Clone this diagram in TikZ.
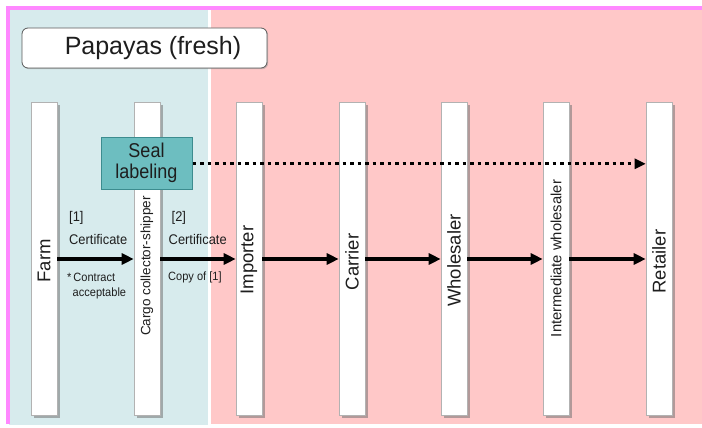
\documentclass[tikz,border=0pt]{standalone}
\usepackage{fontspec}
\setmainfont{Liberation Sans}
\newfontfamily\narrowfont[FakeStretch=0.92]{Liberation Sans}
\newfontfamily\sealfont[FakeStretch=0.9]{Liberation Sans}
\usetikzlibrary{arrows.meta,shadows}
\definecolor{bgblue}{RGB}{215,235,237}
\definecolor{bgpink}{RGB}{255,200,200}
\definecolor{framemag}{RGB}{255,136,255}
\definecolor{sealfill}{RGB}{109,190,192}
\definecolor{sealdraw}{RGB}{60,140,143}
\definecolor{txtgray}{RGB}{30,30,30}
\begin{document}
\begin{tikzpicture}[x=1pt,y=-1pt,
  colbar/.style={draw=black!30, line width=0.6pt, fill=white, minimum width=26pt,
    minimum height=313pt, inner sep=0pt,
    drop shadow={shadow xshift=2.5pt, shadow yshift=-2.5pt, fill=black!55, opacity=0.55}},
  collbl/.style={rotate=90, font=\fontsize{18.5}{20}\selectfont, inner sep=0pt, text=txtgray},
  titlebox/.style={draw=black!65, line width=0.8pt, fill=white, rounded corners=6pt,
    minimum width=245pt, minimum height=40pt, inner sep=0pt,
    drop shadow={shadow xshift=1.2pt, shadow yshift=-1.2pt, fill=black!40, opacity=0.5}},
  sealbox/.style={draw=sealdraw, line width=1pt, fill=sealfill, minimum width=91pt,
    minimum height=52pt, inner sep=0pt, align=center,
    font=\sealfont\fontsize{20}{20.5}\selectfont, text=txtgray},
  certlbl/.style={font=\narrowfont\fontsize{14}{16}\selectfont, anchor=west, inner sep=0pt, text=txtgray},
  smalllbl/.style={font=\narrowfont\fontsize{12}{14}\selectfont, anchor=west, inner sep=0pt, text=txtgray},
  flow/.style={line width=3.3pt, -{Triangle[length=12pt,width=11pt]}},
  dotflow/.style={line width=3pt, dash pattern=on 3.5pt off 4pt, -{Triangle[length=11pt,width=10pt]}}
]
\useasboundingbox (0,0) rectangle (702,428);
% background
\fill[white] (0,0) rectangle (702,428);
\fill[bgblue] (9,10) rectangle (208,425);
\fill[bgpink] (211,10) rectangle (702,424);
\fill[framemag] (6,6.5) rectangle (702,10);
\fill[framemag] (6,6.5) rectangle (9.5,424);
% title
\node[titlebox] (title) at (144.5,48) {};
\node[font=\fontsize{25}{28}\selectfont, text=txtgray, inner sep=0pt] (titletext) at (153,48) {Papayas (fresh)};
% columns
\node[colbar] (farm) at (44,259) {};
\node[colbar] (cargo) at (147,259) {};
\node[colbar] (importer) at (249,259) {};
\node[colbar] (carrier) at (352,259) {};
\node[colbar] (wholesaler) at (454,259) {};
\node[colbar] (interm) at (556,259) {};
\node[colbar] (retailer) at (659,259) {};
% column labels
\node[collbl] (farmlbl) at (44,261) {Farm};
\node[collbl, font=\fontsize{13.5}{15}\selectfont] (cargolbl) at (147,266) {Cargo collector-shipper};
\node[collbl] (importerlbl) at (249,260) {Importer};
\node[collbl] (carrierlbl) at (352,262) {Carrier};
\node[collbl] (wholesalerlbl) at (454,260.5) {Wholesaler};
\node[collbl, font=\fontsize{14.8}{16}\selectfont] (intermlbl) at (556,258.5) {Intermediate wholesaler};
\node[collbl] (retailerlbl) at (659,261.5) {Retailer};
% seal labeling
\node[sealbox] (seal) at (146.5,163) {Seal\\labeling};
\coordinate (dotstart) at ([yshift=-0.8pt]seal.east);
\draw[dotflow] (dotstart) -- (dotstart -| retailer.west);
% flows
\draw[flow] (farm.east) -- (cargo.west);
\draw[flow] (cargo.east) -- (importer.west);
\draw[flow] (importer.east) -- (carrier.west);
\draw[flow] (carrier.east) -- (wholesaler.west);
\draw[flow] (wholesaler.east) -- (interm.west);
\draw[flow] (interm.east) -- (retailer.west);
% flow labels
\node[certlbl] (n1) at (69,218) {[1]};
\node[certlbl] (cert1) at (69,239) {Certificate};
\node[smalllbl] (contract) at (67,277) {*\,Contract};
\node[smalllbl] (accept) at (72.5,293) {acceptable};
\node[certlbl] (n2) at (171.5,218) {[2]};
\node[certlbl] (cert2) at (168.5,239) {Certificate};
\node[smalllbl] (copy1) at (168,277) {Copy of [1]};
\end{tikzpicture}
\end{document}
